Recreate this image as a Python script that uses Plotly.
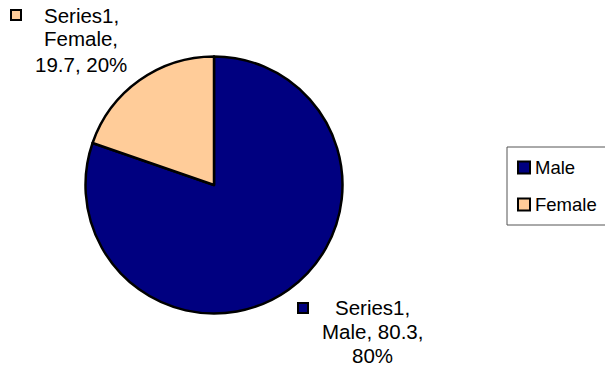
import plotly.graph_objects as go

# Data
series_name = "Series1"
categories = ["Male", "Female"]
values = [80.3, 19.7]
colors = ["#000080", "#FFCC99"]

W, H = 605, 371
FONT = "Liberation Sans, Arial, sans-serif"


def px(x):
    return x / W


def py(y):
    return 1 - y / H


total = sum(values)
percents = [round(v / total * 100) for v in values]

fig = go.Figure()
fig.add_trace(
    go.Pie(
        labels=categories,
        values=values,
        sort=False,
        direction="clockwise",
        rotation=0,
        textinfo="none",
        marker=dict(colors=colors, line=dict(color="black", width=2.5)),
        domain=dict(x=[px(85.5), px(342.5)], y=[py(313.5), py(56.5)]),
        showlegend=False,
    )
)

shapes = []
annotations = []

# Data labels: marker square + three centred lines per slice
label_layout = {
    "Female": dict(square=(11, 10), cx=81, lines_y=[15, 39, 64]),
    "Male": dict(square=(298, 303), cx=372, lines_y=[307, 331, 355]),
}
for cat, val, pct, col in zip(categories, values, percents, colors):
    lay = label_layout[cat]
    sx, sy = lay["square"]
    shapes.append(dict(type="rect", xref="paper", yref="paper",
                       x0=px(sx), x1=px(sx + 10), y0=py(sy + 10), y1=py(sy),
                       fillcolor=col, line=dict(color="black", width=2)))
    if cat == "Female":
        lines = [f"{series_name},", f"{cat},", f"{val}, {pct}%"]
    else:
        lines = [f"{series_name},", f"{cat}, {val},", f"{pct}%"]
    for txt, ly in zip(lines, lay["lines_y"]):
        annotations.append(dict(text=txt, xref="paper", yref="paper",
                                x=px(lay["cx"]), y=py(ly), xanchor="center",
                                yanchor="middle", showarrow=False,
                                font=dict(family=FONT, size=20.5, color="black")))

# Legend box
shapes.append(dict(type="rect", xref="paper", yref="paper",
                   x0=px(507), x1=px(620), y0=py(225), y1=py(147),
                   fillcolor="white", line=dict(color="#555555", width=1), layer="below"))
for i, (cat, col) in enumerate(zip(categories, colors)):
    cy = 167.5 + i * 37
    shapes.append(dict(type="rect", xref="paper", yref="paper",
                       x0=px(518), x1=px(530), y0=py(cy + 6), y1=py(cy - 6),
                       fillcolor=col, line=dict(color="black", width=2)))
    annotations.append(dict(text=cat, xref="paper", yref="paper",
                            x=px(533), y=py(cy), xanchor="left", yanchor="middle",
                            showarrow=False,
                            font=dict(family=FONT, size=18.5, color="black")))

fig.update_layout(
    width=W, height=H,
    margin=dict(l=0, r=0, t=0, b=0),
    paper_bgcolor="white",
    plot_bgcolor="white",
    shapes=shapes,
    annotations=annotations,
)

fig.write_html("out.html")
